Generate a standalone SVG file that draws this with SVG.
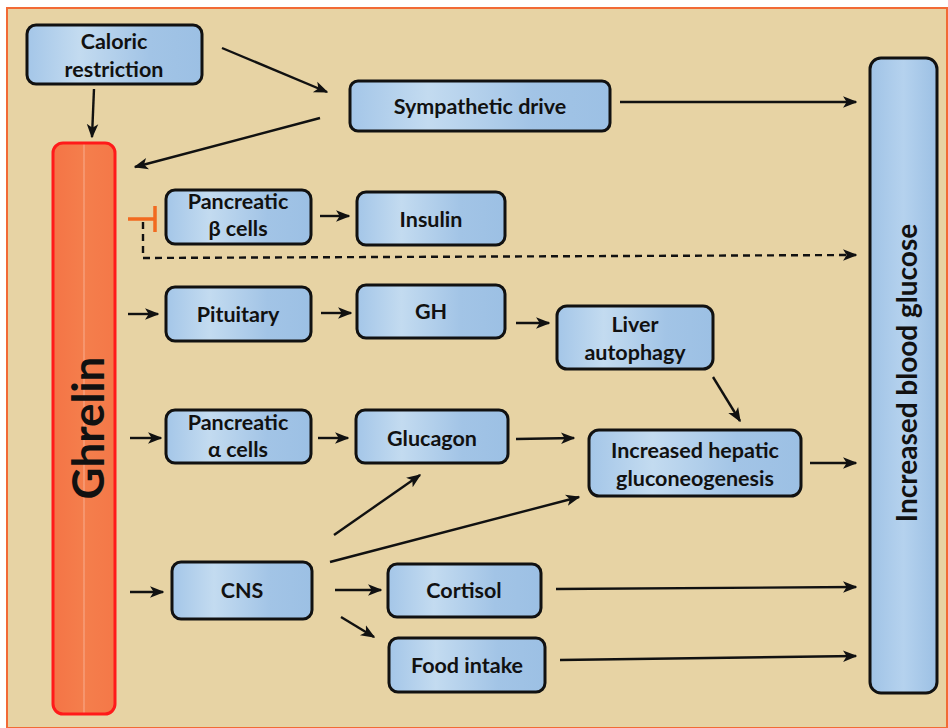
<svg xmlns="http://www.w3.org/2000/svg" width="948" height="728" viewBox="0 0 948 728">
<style>
.node{fill:url(#blue);stroke:#111;stroke-width:3}
.t{font-family:Lato,"Open Sans","Liberation Sans",sans-serif;font-weight:bold;font-size:21.5px;fill:#111;text-anchor:middle}
.c{stroke:#111;stroke-width:2.4;fill:none;marker-end:url(#ah)}
</style>
<defs>
<linearGradient id="blue" x1="0" y1="0" x2="1" y2="0">
<stop offset="0" stop-color="#A4C6E8"/>
<stop offset="0.3" stop-color="#C3DBF0"/>
<stop offset="0.7" stop-color="#A2C4E6"/>
<stop offset="1" stop-color="#9CC0E4"/>
</linearGradient>
<linearGradient id="blueV" x1="0" y1="0" x2="1" y2="0">
<stop offset="0" stop-color="#A0C3E6"/>
<stop offset="0.5" stop-color="#B5D2EE"/>
<stop offset="1" stop-color="#9CC0E4"/>
</linearGradient>
<linearGradient id="orange" x1="0" y1="0" x2="1" y2="0">
<stop offset="0" stop-color="#F47446"/>
<stop offset="0.48" stop-color="#F47E4C"/>
<stop offset="0.5" stop-color="#F8A584"/>
<stop offset="0.52" stop-color="#F47E4C"/>
<stop offset="1" stop-color="#F47848"/>
</linearGradient>
<marker id="ah" viewBox="0 0 10 10" refX="9" refY="5" markerWidth="6" markerHeight="6" markerUnits="strokeWidth" orient="auto">
<path d="M0,1 L10,5 L0,9 L2.5,5 Z" fill="#111"/>
</marker>
</defs>
<rect x="0" y="0" width="948" height="728" fill="#FFFFFF"/>
<rect x="7" y="8" width="940" height="720" fill="#E7D3A4" stroke="#F26A35" stroke-width="2"/>

<g id="ghrelin">
<rect x="53" y="143" width="62" height="571" rx="10" fill="url(#orange)" stroke="#FF1A1A" stroke-width="3"/>
<text class="t" transform="translate(104,428) rotate(-90)" style="font-size:44px">Ghrelin</text>
</g>
<g id="ibg">
<rect x="870" y="58" width="67" height="635" rx="11" fill="url(#blueV)" stroke="#111" stroke-width="3"/>
<text class="t" transform="translate(917,373) rotate(-90)" style="font-size:28px">Increased blood glucose</text>
</g>
<g id="caloric">
<rect class="node" x="27" y="25" width="175" height="59" rx="9"/>
<text class="t" x="114" y="49">Caloric</text>
<text class="t" x="114" y="77">restriction</text>
</g>
<g id="sympathetic">
<rect class="node" x="350" y="81" width="260" height="50" rx="8"/>
<text class="t" x="480" y="114">Sympathetic drive</text>
</g>
<g id="beta">
<rect class="node" x="166" y="190" width="145" height="54" rx="9"/>
<text class="t" x="238" y="209">Pancreatic</text>
<text class="t" x="238" y="236">β cells</text>
</g>
<g id="insulin">
<rect class="node" x="357" y="192" width="148" height="53" rx="9"/>
<text class="t" x="431" y="227">Insulin</text>
</g>
<g id="pituitary">
<rect class="node" x="166" y="287" width="145" height="54" rx="9"/>
<text class="t" x="238" y="322">Pituitary</text>
</g>
<g id="gh">
<rect class="node" x="357" y="285" width="148" height="53" rx="9"/>
<text class="t" x="431" y="319">GH</text>
</g>
<g id="liver">
<rect class="node" x="557" y="306" width="156" height="63" rx="10"/>
<text class="t" x="635" y="332">Liver</text>
<text class="t" x="635" y="360">autophagy</text>
</g>
<g id="alpha">
<rect class="node" x="166" y="410" width="145" height="53" rx="9"/>
<text class="t" x="238" y="430">Pancreatic</text>
<text class="t" x="238" y="457">α cells</text>
</g>
<g id="glucagon">
<rect class="node" x="356" y="410" width="152" height="53" rx="9"/>
<text class="t" x="432" y="446">Glucagon</text>
</g>
<g id="gluconeo">
<rect class="node" x="589" y="430" width="212" height="66" rx="10"/>
<text class="t" x="695" y="458">Increased hepatic</text>
<text class="t" x="695" y="486">gluconeogenesis</text>
</g>
<g id="cns">
<rect class="node" x="172" y="562" width="140" height="57" rx="9"/>
<text class="t" x="242" y="598">CNS</text>
</g>
<g id="cortisol">
<rect class="node" x="388" y="564" width="153" height="53" rx="9"/>
<text class="t" x="464" y="598">Cortisol</text>
</g>
<g id="food">
<rect class="node" x="389" y="638" width="156" height="54" rx="9"/>
<text class="t" x="467" y="673">Food intake</text>
</g>

<g id="connectors">
<path class="c" d="M222,48 L327,92"/>
<path class="c" d="M320,118 L135,167"/>
<path class="c" d="M94,89 L92,137"/>
<path class="c" d="M620,102 L856,102"/>
<path d="M128,219 L155,219 M155,206 L155,232" stroke="#F26A1F" stroke-width="3.5" fill="none"/>
<path class="c" d="M143,222 L143,258 L856,255" stroke-dasharray="7,5"/>
<path class="c" d="M320,216 L349,216"/>
<path class="c" d="M128,314 L158,314"/>
<path class="c" d="M321,313 L351,313"/>
<path class="c" d="M516,323 L549,323"/>
<path class="c" d="M713,377 L740,421"/>
<path class="c" d="M130,438 L161,438"/>
<path class="c" d="M318,438 L348,438"/>
<path class="c" d="M516,439 L574,438"/>
<path class="c" d="M810,463 L856,463"/>
<path class="c" d="M334,535 L420,475"/>
<path class="c" d="M330,562 L579,497"/>
<path class="c" d="M130,592 L163,592"/>
<path class="c" d="M335,590 L381,590"/>
<path class="c" d="M341,617 L374,637"/>
<path class="c" d="M556,589 L856,587"/>
<path class="c" d="M560,660 L856,656"/>
</g>
</svg>
